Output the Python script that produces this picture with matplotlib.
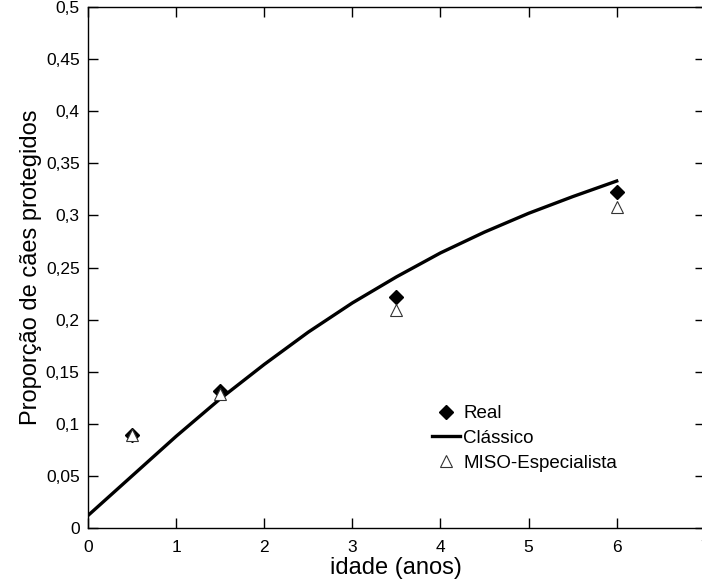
import matplotlib.pyplot as plt
from matplotlib.ticker import FuncFormatter

plt.rcParams['font.family'] = ['Liberation Sans', 'DejaVu Sans']

# dados observados
idade = [0.5, 1.5, 3.5, 6.0]
real = [0.089, 0.131, 0.222, 0.322]
miso = [0.089, 0.129, 0.209, 0.308]

# curva do modelo classico
t_classico = [0, 0.5, 1, 1.5, 2, 2.5, 3, 3.5, 4, 4.5, 5, 5.5, 6]
y_classico = [0.012, 0.050, 0.088, 0.124, 0.157, 0.188, 0.216,
              0.241, 0.264, 0.284, 0.302, 0.318, 0.333]

fig = plt.figure(figsize=(7.02, 5.84), dpi=100)
ax = fig.add_axes([0.1254, 0.0959, 0.8786, 0.8921])

ax.plot(idade, real, linestyle='None', marker='D', markersize=7,
        color='black', label='Real')
ax.plot(t_classico, y_classico, color='black', linewidth=2.4, label='Clássico')
ax.plot(idade, miso, linestyle='None', marker='^', markersize=8,
        markerfacecolor='white', markeredgecolor='#333333', markeredgewidth=0.8,
        label='MISO-Especialista')

ax.set_xlim(0, 7)
ax.set_ylim(0, 0.5)
ax.set_xticks(range(0, 8))
ax.set_yticks([i * 0.05 for i in range(11)])
ax.yaxis.set_major_formatter(FuncFormatter(lambda v, p: ('%g' % round(v, 2)).replace('.', ',')))
ax.tick_params(direction='in', length=7, width=1, top=True, right=True,
               labelsize=12.5, pad=6)
ax.tick_params(axis='x', pad=9)
for s in ax.spines.values():
    s.set_linewidth(1)

ax.set_xlabel('idade (anos)', fontsize=17, labelpad=1)
ax.set_ylabel('Proporção de cães protegidos', fontsize=17, labelpad=3)

ax.legend(loc='upper left', bbox_to_anchor=(0.546, 0.25), borderaxespad=0,
          frameon=False, fontsize=13.5, handlelength=1.5, handletextpad=0.15,
          labelspacing=0.4)

fig.savefig('out.png', dpi=100)
